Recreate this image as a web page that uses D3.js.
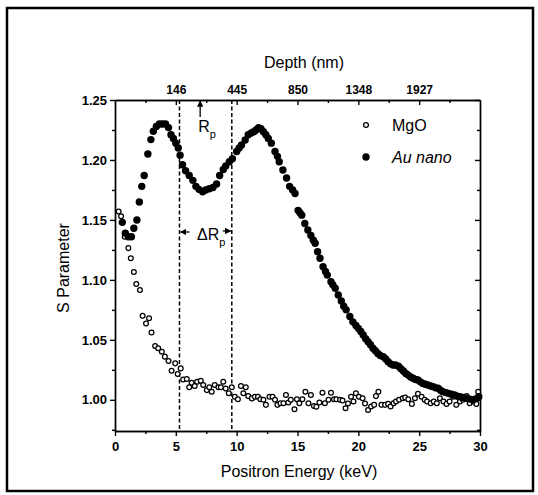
<!DOCTYPE html>
<html>
<head>
<meta charset="utf-8">
<script src="https://cdn.jsdelivr.net/npm/d3@7"></script>
<style>
  body { margin: 0; background: #fff; }
  svg { font-family: "Liberation Sans", Arial, sans-serif; }
  .axis path, .axis line { stroke: #000; stroke-width: 1.4; }
  .axis text { fill: #000; font-size: 13px; font-weight: bold; }
</style>
</head>
<body>
<div class="chart"></div>
<script>
// Au nano sample (filled) : positron energy (keV) / S parameter
var auEnergy = [0.6, 0.85, 1.1, 1.35, 1.55, 1.8, 2.0, 2.2, 2.4, 2.7, 2.95, 3.15, 3.4, 3.65, 3.9, 4.15, 4.4, 4.6, 4.8, 5.0,
  5.2, 5.35, 5.55, 5.8, 6.1, 6.4, 6.65, 6.9, 7.2, 7.45, 7.75, 8.05, 8.35, 8.6, 8.9, 9.1, 9.4, 9.65, 10.0, 10.2,
  10.4, 10.7, 10.95, 11.2, 11.4, 11.6, 11.8, 12.0, 12.2, 12.4, 12.6, 12.85, 13.15, 13.35, 13.5, 13.8, 14.1, 14.35, 14.6, 14.8,
  15.05, 15.2, 15.35, 15.6, 15.85, 16.1, 16.3, 16.45, 16.65, 16.85, 17.1, 17.3, 17.45, 17.75, 17.9, 18.1, 18.35, 18.6, 18.8, 19.0,
  19.3, 19.55, 19.8, 20.0, 20.2, 20.4, 20.6, 20.8, 21.0, 21.2, 21.4, 21.6, 21.8, 22.05, 22.25, 22.45, 22.65, 22.85, 23.05, 23.3,
  23.5, 23.7, 23.9, 24.1, 24.3, 24.5, 24.7, 24.9, 25.1, 25.3, 25.5, 25.7, 25.95, 26.15, 26.35, 26.55, 26.75, 26.95, 27.2, 27.4,
  27.65, 27.9, 28.15, 28.35, 28.6, 28.9, 29.15, 29.45, 29.7, 29.9];
var auS = [1.148, 1.139, 1.136, 1.136, 1.143, 1.150, 1.165, 1.178, 1.187, 1.205, 1.217, 1.224, 1.228, 1.230, 1.230, 1.230, 1.227, 1.221, 1.218, 1.214,
  1.210, 1.204, 1.196, 1.191, 1.187, 1.183, 1.178, 1.1755, 1.1735, 1.175, 1.176, 1.177, 1.180, 1.187, 1.192, 1.195, 1.1985, 1.201, 1.207, 1.210,
  1.2125, 1.2167, 1.221, 1.2225, 1.2236, 1.225, 1.227, 1.226, 1.2236, 1.221, 1.218, 1.214, 1.207, 1.203, 1.1985, 1.1916, 1.185, 1.178, 1.175, 1.172,
  1.158, 1.156, 1.154, 1.147, 1.1416, 1.137, 1.133, 1.1305, 1.1235, 1.118, 1.111, 1.107, 1.104, 1.0985, 1.096, 1.093, 1.0874, 1.0825, 1.078, 1.075,
  1.0695, 1.065, 1.062, 1.0596, 1.057, 1.054, 1.051, 1.0484, 1.046, 1.043, 1.041, 1.0387, 1.037, 1.036, 1.034, 1.0318, 1.030, 1.029, 1.029, 1.028,
  1.026, 1.024, 1.022, 1.0206, 1.019, 1.018, 1.017, 1.0165, 1.015, 1.0137, 1.013, 1.0123, 1.0115, 1.011, 1.010, 1.0096, 1.008, 1.0068, 1.006, 1.0054,
  1.0047, 1.004, 1.003, 1.0026, 1.002, 1.0013, 1.0006, 1.000, 1.001, 1.0026];

// MgO substrate (open)
var mgoEnergy = [0.3, 0.5, 0.8, 1.1, 1.3, 1.55, 1.75, 2.05, 2.27, 2.55, 2.8, 3.0, 3.3, 3.55, 3.85, 4.1, 4.4, 4.65, 4.95, 5.15,
  5.4, 5.6, 5.9, 6.1, 6.3, 6.55, 6.75, 7.05, 7.25, 7.55, 7.75, 7.95, 8.2, 8.5, 8.7, 8.9, 9.1, 9.35, 9.6, 9.85,
  10.1, 10.35, 10.55, 10.75, 10.95, 11.25, 11.5, 11.75, 11.95, 12.2, 12.4, 12.7, 12.95, 13.15, 13.35, 13.6, 13.85, 14.05, 14.25, 14.45,
  14.75, 14.95, 15.15, 15.4, 15.65, 15.9, 16.1, 16.35, 16.55, 16.8, 17.05, 17.25, 17.55, 17.75, 18.0, 18.2, 18.5, 18.7, 18.95, 19.15,
  19.4, 19.6, 19.8, 20.05, 20.35, 20.55, 20.8, 21.05, 21.3, 21.45, 21.65, 21.9, 22.2, 22.45, 22.65, 22.9, 23.1, 23.35, 23.65, 23.85,
  24.1, 24.4, 24.65, 24.9, 25.2, 25.45, 25.65, 25.95, 26.2, 26.45, 26.7, 27.0, 27.25, 27.5, 27.8, 28.05, 28.35, 28.6, 28.9, 29.15,
  29.45, 29.7, 29.85];
var mgoS = [1.157, 1.153, 1.136, 1.1265, 1.118, 1.1065, 1.0965, 1.0915, 1.070, 1.0637, 1.068, 1.0562, 1.0448, 1.043, 1.040, 1.036, 1.0323, 1.0243, 1.0304, 1.0215,
  1.0262, 1.017, 1.0173, 1.0104, 1.0142, 1.0115, 1.015, 1.0159, 1.0123, 1.0081, 1.0104, 1.0067, 1.0123, 1.0104, 1.0104, 1.015, 1.0095, 1.0054, 1.0104, 1.0026,
  1.0004, 1.0115, 1.0054, 1.0104, 1.0031, 1.0012, 1.0026, 1.0026, 1.0004, 1.000, 0.9958, 1.0026, 1.0026, 1.000, 0.9958, 0.9972, 0.9972, 1.0041, 0.9977, 1.000,
  0.9922, 1.0004, 0.9972, 1.0004, 1.0067, 0.9972, 1.0041, 0.9949, 0.9942, 0.9977, 1.0059, 0.9972, 1.000, 1.0059, 1.0004, 1.0004, 1.000, 0.9994, 0.993, 0.997,
  1.0026, 0.9986, 1.0054, 1.0026, 1.0013, 0.997, 0.9915, 0.9944, 0.9958, 1.0031, 1.0067, 0.9958, 0.9958, 0.9966, 0.9944, 0.9972, 0.9986, 1.000, 1.0013, 1.002,
  1.0004, 0.9966, 1.0013, 1.005, 1.0026, 1.000, 0.9986, 0.9972, 0.9986, 0.9972, 1.0013, 0.9986, 0.9966, 0.9986, 1.0026, 0.9958, 0.9986, 1.000, 1.0031, 0.9972,
  0.9986, 0.9966, 1.0067];

var xTicks = [0, 5, 10, 15, 20, 25, 30];
var yTicks = [1.00, 1.05, 1.10, 1.15, 1.20, 1.25];
var depthTicks = [5, 10, 15, 20, 25];
var depthLabels = ["146", "445", "850", "1348", "1927"];
var rpEnergy = 7.0;
var rangeEdges = [5.3, 9.6];

var W = 538, H = 495;
var margin = {top: 100, right: 58, bottom: 64, left: 115},
  width = W - margin.left - margin.right,
  height = H - margin.top - margin.bottom;

var svg = d3.select(".chart").append("svg")
  .attr("width", W)
  .attr("height", H);

// outer frame
svg.append("rect")
  .attr("x", 7).attr("y", 8)
  .attr("width", 526).attr("height", 483)
  .style("fill", "none").style("stroke", "#000").style("stroke-width", 2.5);

var g = svg.append("g").attr("transform", "translate(" + margin.left + "," + margin.top + ")");

var x = d3.scaleLinear().domain([0, 30]).range([0, width]),
  y = d3.scaleLinear().domain([0.974, 1.25]).range([height, 0]);

var xMinor = d3.range(0, 30.01, 2.5).filter(function(v) { return xTicks.indexOf(v) < 0; });
var yMinor = [0.975, 1.025, 1.075, 1.125, 1.175, 1.225];
var topMinor = d3.range(2.5, 30, 5);

// minor ticks first
g.append("g").attr("class", "axis")
  .attr("transform", "translate(0," + height + ")")
  .call(d3.axisBottom(x).tickValues(xMinor).tickFormat("").tickSizeInner(3).tickSizeOuter(0));
g.append("g").attr("class", "axis")
  .call(d3.axisLeft(y).tickValues(yMinor).tickFormat("").tickSizeInner(3).tickSizeOuter(0));
g.append("g").attr("class", "axis")
  .attr("transform", "translate(" + width + ",0)")
  .call(d3.axisRight(y).tickValues(yMinor).tickFormat("").tickSizeInner(-3).tickSizeOuter(0));
g.append("g").attr("class", "axis")
  .call(d3.axisTop(x).tickValues(topMinor).tickFormat("").tickSizeInner(-3).tickSizeOuter(0));

g.append("g")
  .attr("class", "axis axis--x")
  .attr("transform", "translate(0," + height + ")")
  .call(d3.axisBottom(x).tickValues(xTicks).tickFormat(d3.format("d")).tickSizeInner(5).tickSizeOuter(0).tickPadding(6));

g.append("g")
  .attr("class", "axis axis--y")
  .call(d3.axisLeft(y).tickValues(yTicks).tickFormat(d3.format(".2f")).tickSizeInner(5).tickSizeOuter(0).tickPadding(3));

g.append("g")
  .attr("class", "axis")
  .attr("transform", "translate(" + width + ",0)")
  .call(d3.axisRight(y).tickValues(yTicks).tickFormat("").tickSizeInner(-5).tickSizeOuter(0));

g.append("g")
  .attr("class", "axis axis--top")
  .call(d3.axisTop(x).tickValues(depthTicks)
    .tickFormat(function(d, i) { return depthLabels[i]; })
    .tickSizeInner(-5).tickSizeOuter(0).tickPadding(6));
g.select(".axis--top").selectAll("text").style("font-size", "12px");

// axis titles
svg.append("text")
  .attr("x", 304).attr("y", 68)
  .attr("text-anchor", "middle")
  .style("font-size", "16px")
  .text("Depth (nm)");

svg.append("text")
  .attr("x", 299).attr("y", 477)
  .attr("text-anchor", "middle")
  .style("font-size", "16px")
  .text("Positron Energy (keV)");

svg.append("text")
  .attr("transform", "translate(69,268) rotate(-90)")
  .attr("text-anchor", "middle")
  .style("font-size", "16px")
  .text("S Parameter");

// dashed lines marking the range
g.selectAll(".edge")
  .data(rangeEdges)
  .enter().append("line")
    .attr("class", "edge")
    .attr("x1", function(d) { return x(d); })
    .attr("x2", function(d) { return x(d); })
    .attr("y1", 0)
    .attr("y2", height)
    .style("stroke", "#000")
    .style("stroke-width", 1.5)
    .style("stroke-dasharray", "4,2.5");

// data
var mgo = mgoEnergy.map(function(e, i) { return {e: e, s: mgoS[i]}; });
var au = auEnergy.map(function(e, i) { return {e: e, s: auS[i]}; });

g.selectAll(".mgo")
  .data(mgo)
  .enter().append("circle")
    .attr("class", "mgo")
    .attr("cx", function(d) { return x(d.e); })
    .attr("cy", function(d) { return y(d.s); })
    .attr("r", 2.4)
    .style("fill", "#fff")
    .style("stroke", "#000")
    .style("stroke-width", 1.25);

g.selectAll(".au")
  .data(au)
  .enter().append("circle")
    .attr("class", "au")
    .attr("cx", function(d) { return x(d.e); })
    .attr("cy", function(d) { return y(d.s); })
    .attr("r", 3.7)
    .style("fill", "#000");

// arrows
svg.append("defs").append("marker")
  .attr("id", "head")
  .attr("viewBox", "0 0 10 10")
  .attr("refX", 9).attr("refY", 5)
  .attr("markerWidth", 5).attr("markerHeight", 5)
  .attr("orient", "auto")
  .append("path").attr("d", "M0,0 L10,5 L0,10 z").style("fill", "#000");

g.append("line")
  .attr("x1", x(rpEnergy)).attr("x2", x(rpEnergy))
  .attr("y1", 17).attr("y2", 1)
  .style("stroke", "#000").style("stroke-width", 1.3)
  .attr("marker-end", "url(#head)");

var rp = g.append("text")
  .attr("x", x(rpEnergy) - 2).attr("y", 32)
  .style("font-size", "16px");
rp.append("tspan").text("R");
rp.append("tspan").attr("dy", 6).style("font-size", "11px").text("p");

var arrowY = 132;
g.append("line")
  .attr("x1", x(rangeEdges[0]) + 10).attr("x2", x(rangeEdges[0]) + 1)
  .attr("y1", arrowY).attr("y2", arrowY)
  .style("stroke", "#000").style("stroke-width", 1.3)
  .attr("marker-end", "url(#head)");
g.append("line")
  .attr("x1", x(rangeEdges[1]) - 9).attr("x2", x(rangeEdges[1]) - 1)
  .attr("y1", arrowY - 1).attr("y2", arrowY - 1)
  .style("stroke", "#000").style("stroke-width", 1.3)
  .attr("marker-end", "url(#head)");

var dr = g.append("text")
  .attr("x", 82).attr("y", 140)
  .style("font-size", "16px");
dr.append("tspan").text("\u0394R");
dr.append("tspan").attr("dy", 6).style("font-size", "11px").text("p");

// legend
var legend = [{name: "MgO", filled: false, italic: false}, {name: "Au nano", filled: true, italic: true}];
var lg = g.selectAll(".legend")
  .data(legend)
  .enter().append("g")
    .attr("class", "legend")
    .attr("transform", function(d, i) { return "translate(251," + (25 + i * 32) + ")"; });

lg.append("circle")
  .attr("r", function(d) { return d.filled ? 3.7 : 2.4; })
  .style("fill", function(d) { return d.filled ? "#000" : "#fff"; })
  .style("stroke", "#000")
  .style("stroke-width", function(d) { return d.filled ? 0 : 1.25; });

lg.append("text")
  .attr("x", 26).attr("dy", "0.35em")
  .style("font-size", "16px")
  .style("font-style", function(d) { return d.italic ? "italic" : "normal"; })
  .text(function(d) { return d.name; });
</script>
</body>
</html>
